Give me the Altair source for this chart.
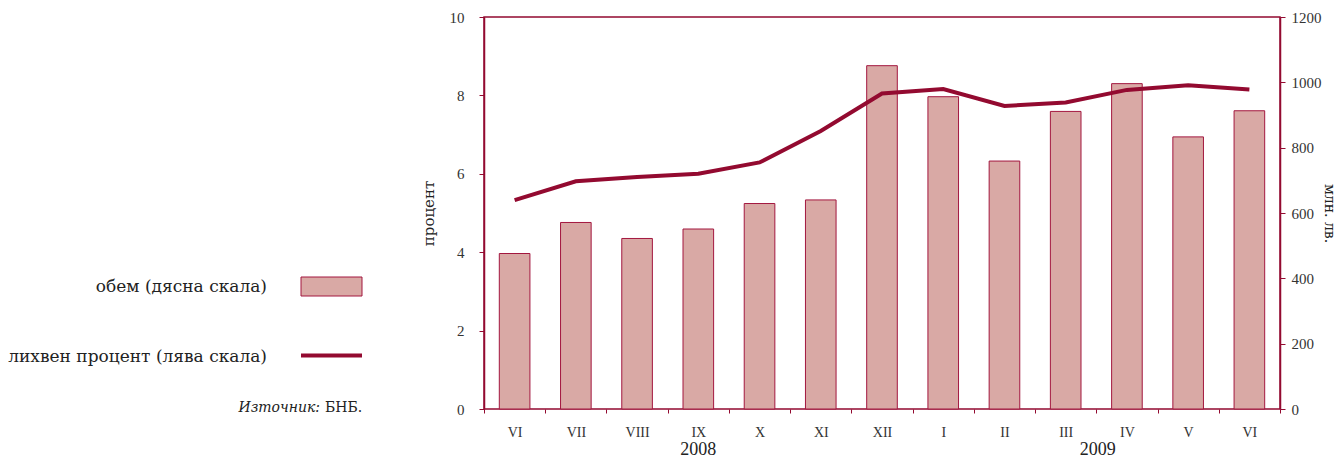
import altair as alt
import pandas as pd

months = ["VI", "VII", "VIII", "IX", "X", "XI", "XII", "I", "II", "III", "IV", "V", "VI"]
years = ["2008"] * 7 + ["2009"] * 6
volume = [476, 571, 522, 551, 629, 640, 1051, 956, 759, 911, 996, 833, 913]
rate = [5.33, 5.81, 5.92, 6.00, 6.29, 7.09, 8.05, 8.16, 7.73, 7.82, 8.14, 8.26, 8.15]

keys = [f"{m}-{y}" for m, y in zip(months, years)]
df = pd.DataFrame({"key": keys, "volume": volume, "rate": rate})

RED = "#930a30"
BAR_FILL = "#d9a9a5"
BAR_STROKE = "#a3173f"
FONT = "Liberation Serif"
CYR = "DejaVu Serif"

W, H = 796, 392

xenc = alt.X(
    "key:N",
    sort=keys,
    title=None,
    scale=alt.Scale(paddingInner=0, paddingOuter=0),
    axis=alt.Axis(
        labelExpr="split(datum.label, '-')[0]",
        labelAngle=0,
        tickBand="extent",
        tickSize=4,
        labelPadding=12,
        labelFontSize=14,
        domain=False,
    ),
)

bars = alt.Chart(df).mark_bar(
    width=alt.RelativeBandSize(0.5), fill=BAR_FILL, stroke=BAR_STROKE, strokeWidth=1
).encode(
    x=xenc,
    y=alt.Y(
        "volume:Q",
        scale=alt.Scale(domain=[0, 1200], nice=False),
        axis=alt.Axis(
            orient="right",
            title="млн. лв.",
            values=[0, 200, 400, 600, 800, 1000, 1200],
            format="d",
            tickSize=5,
            labelPadding=6,
            titleX=48,
            titleBaseline="middle",
            titleAlign="center",
            titleAngle=90,
            titleFontSize=14,
            grid=False,
        ),
    ),
)

line = alt.Chart(df).mark_line(color=RED, strokeWidth=4).encode(
    x=xenc,
    y=alt.Y(
        "rate:Q",
        scale=alt.Scale(domain=[0, 10], nice=False),
        axis=alt.Axis(
            orient="left",
            title="процент",
            values=[0, 2, 4, 6, 8, 10],
            tickSize=5,
            labelPadding=15,
            titlePadding=13,
            grid=False,
        ),
    ),
)

year_df1 = pd.DataFrame({"key": ["IX-2008"], "year": ["2008"]})
year_df2 = pd.DataFrame({"key": ["III-2009"], "year": ["2009"]})
year1 = alt.Chart(year_df1).mark_text(font=FONT, fontSize=18, color="#222", baseline="middle").encode(
    x=alt.X("key:N", sort=keys), y=alt.value(433), text="year:N"
)
year2 = alt.Chart(year_df2).mark_text(font=FONT, fontSize=18, color="#222", baseline="middle", dx=32).encode(
    x=alt.X("key:N", sort=keys), y=alt.value(433), text="year:N"
)

legend_labels = ["обем (дясна скала)", "лихвен процент (лява скала)"]
leg_df = pd.DataFrame({"label": legend_labels, "ypos": [270, 340]})
leg_text = alt.Chart(leg_df).mark_text(
    font=CYR, fontSize=17, color="#222", align="right", baseline="middle"
).encode(x=alt.value(-217), y=alt.Y("ypos:Q", scale=None), text="label:N")

swatch = alt.Chart(pd.DataFrame({"a": [0]})).mark_rect(
    fill=BAR_FILL, stroke=BAR_STROKE, strokeWidth=1
).encode(x=alt.value(-183), x2=alt.value(-122), y=alt.value(260), y2=alt.value(279))

leg_line = alt.Chart(pd.DataFrame({"a": [0]})).mark_rule(color=RED, strokeWidth=4).encode(
    x=alt.value(-183), x2=alt.value(-122), y=alt.value(338.5)
)

src1 = alt.Chart(pd.DataFrame({"t": ["Източник:"]})).mark_text(
    font=CYR, fontSize=14, fontStyle="italic", color="#222", align="right", baseline="middle"
).encode(x=alt.value(-164), y=alt.value(391), text="t:N")
src2 = alt.Chart(pd.DataFrame({"t": ["БНБ."]})).mark_text(
    font=CYR, fontSize=14, color="#222", align="left", baseline="middle"
).encode(x=alt.value(-159), y=alt.value(391), text="t:N")

chart = (
    alt.layer(bars, line, year1, year2, leg_text, swatch, leg_line, src1, src2)
    .resolve_scale(y="independent")
    .properties(
        width=W,
        height=H,
        autosize=alt.AutoSizeParams(type="none"),
        padding={"left": 476, "top": 9, "right": 56, "bottom": 50},
    )
    .configure_view(stroke=RED, strokeWidth=1.5)
    .configure_axis(
        labelFont=FONT,
        titleFont=CYR,
        labelFontSize=15,
        titleFontSize=15,
        titleFontWeight="normal",
        labelColor="#333",
        titleColor="#222",
        domainColor=RED,
        domainWidth=1.5,
        tickColor=RED,
        tickWidth=1,
    )
)

chart.save("out.html", embed_options={"renderer": "svg", "actions": False})
